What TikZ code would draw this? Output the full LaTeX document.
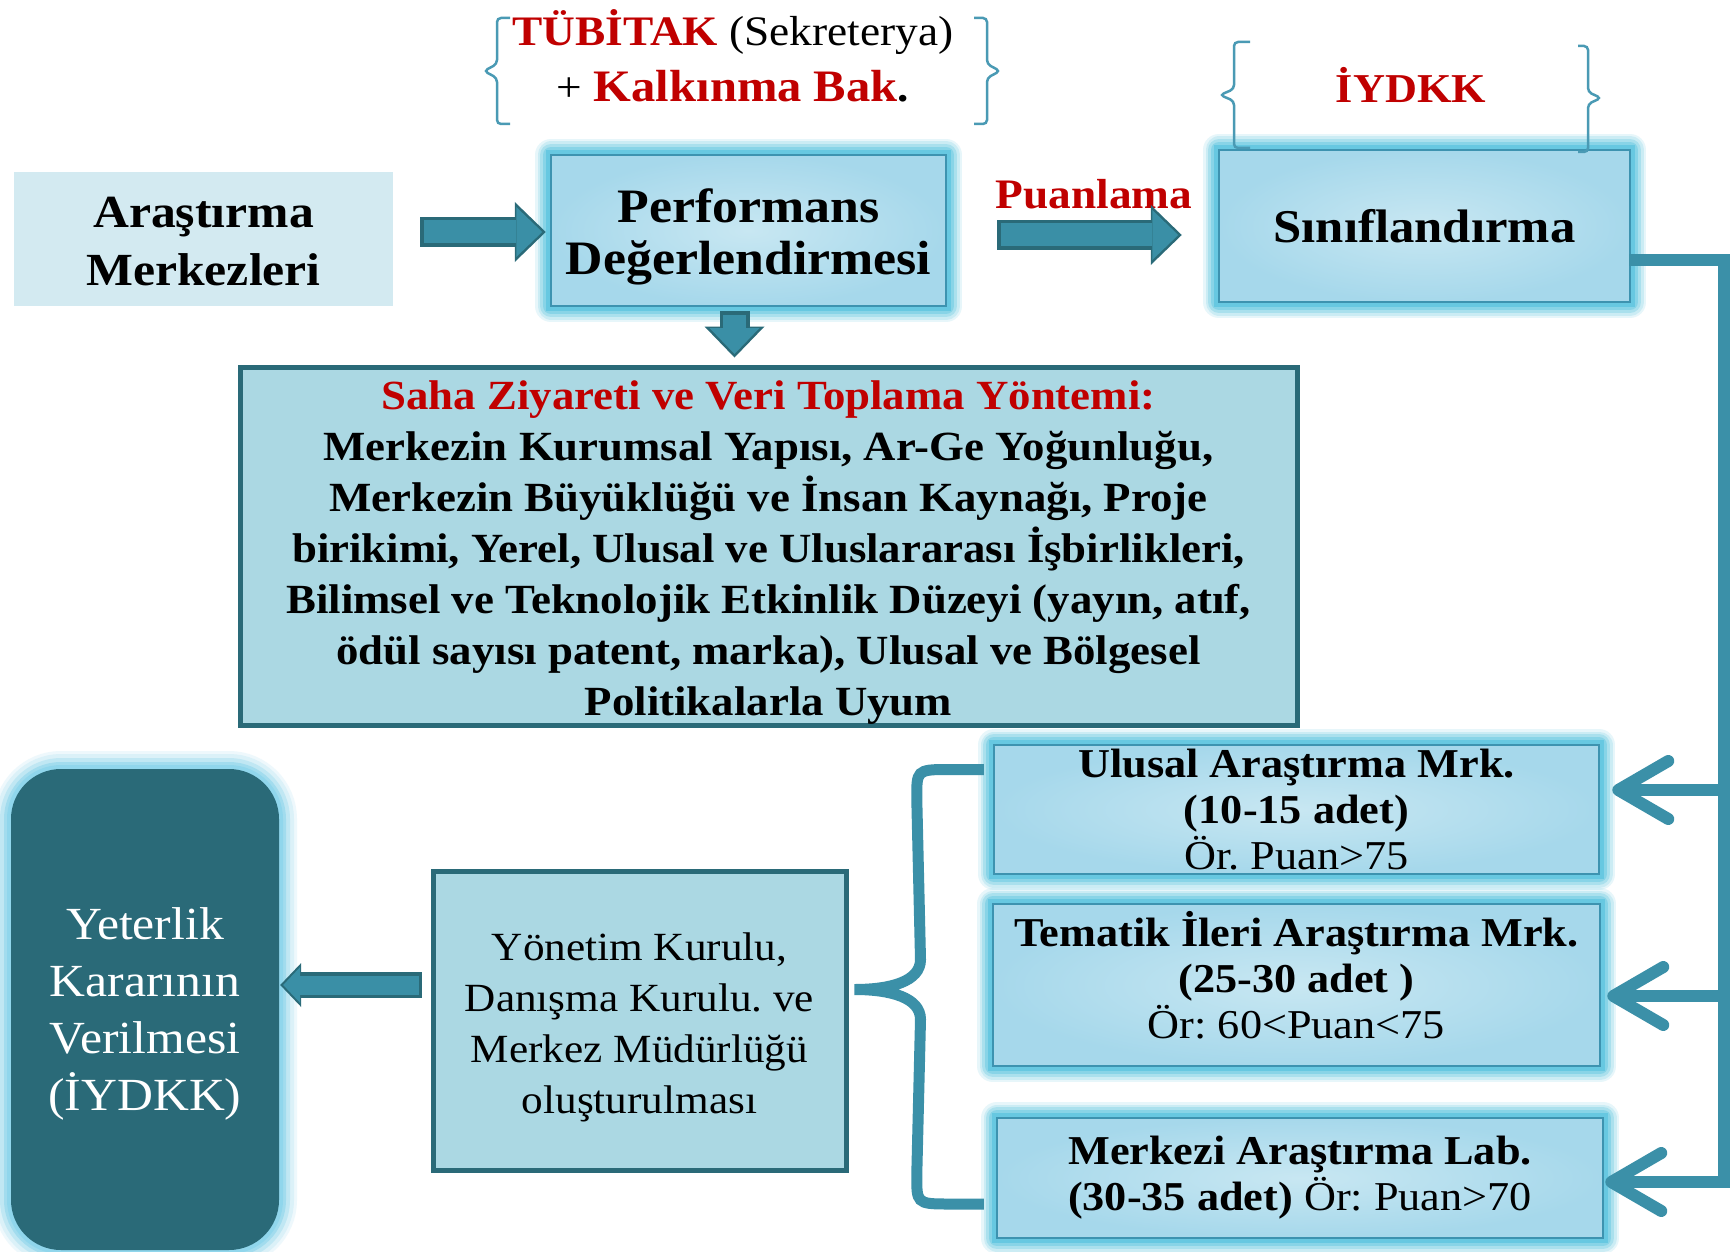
\documentclass[tikz,border=0pt]{standalone}
\usepackage{fontspec}
\setmainfont[FakeStretch=1.08]{Liberation Serif}
\frenchspacing
\usetikzlibrary{arrows.meta,calc}
\definecolor{redt}{HTML}{C00000}
\definecolor{tealdk}{HTML}{2A6A78}
\definecolor{arrowc}{HTML}{3A8FA6}
\definecolor{connc}{HTML}{3B90A8}
\definecolor{bracec}{HTML}{4A9AB4}
\definecolor{lightbox}{HTML}{D3EAF1}
\definecolor{sahafill}{HTML}{ABD8E3}
\definecolor{boxin}{HTML}{C8E7F2}
\definecolor{boxout}{HTML}{A6D8EB}
\definecolor{boxline}{HTML}{3D93B0}
\definecolor{glowc}{HTML}{5FC6E0}
\definecolor{glowlt}{HTML}{8FD6EC}
\begin{document}
\begin{tikzpicture}[x=1pt,y=-1pt,
  glowbox/.style={draw=boxline, line width=2.5, inner color=boxin, outer color=boxout,
    preaction={draw=glowc, line width=32, opacity=0.15, line join=round},
    preaction={draw=glowc, line width=27, opacity=0.2, line join=round},
    preaction={draw=glowc, line width=22, opacity=0.3, line join=round},
    preaction={draw=glowc, line width=16, opacity=0.45, line join=round},
    preaction={draw=glowc, line width=10, opacity=0.8},
    inner sep=0, align=center},
  darkbox/.style={draw=tealdk, line width=5, fill=sahafill, inner sep=0, align=center},
  yetbox/.style={fill=tealdk, rounded corners=50, inner sep=0, align=center, text=white,
    preaction={draw=glowlt, line width=36, opacity=0.15},
    preaction={draw=glowlt, line width=30, opacity=0.2},
    preaction={draw=glowlt, line width=22, opacity=0.35},
    preaction={draw=glowlt, line width=14, opacity=0.6},
    preaction={draw=glowlt, line width=8, opacity=0.9}},
  plain/.style={inner sep=0, align=center},
  smallbr/.style={draw=bracec, line width=2.5, rounded corners=4},
  bigbr/.style={draw=connc, line width=11},
  conn/.style={draw=connc, line width=12, line join=miter},
  barb/.style={-{Straight Barb[length=50,width=58,round]}},
  fatO/.style={draw=tealdk, line width=30, -{Triangle[length=31,width=60,line width=0pt]}},
  fatI/.style={draw=arrowc, line width=23, shorten >=3.5, shorten <=3.5, -{Triangle[length=26,width=50,line width=0pt]}},
  fatOs/.style={draw=tealdk, line width=26, -{Triangle[length=21,width=44,line width=0pt]}},
  fatIs/.style={draw=arrowc, line width=19, shorten >=3, shorten <=3, -{Triangle[length=17,width=36,line width=0pt]}},
]
\useasboundingbox (0,0) rectangle (1735,1252);
\fill[white] (0,0) rectangle (1735,1252);

% boxes
\node[fill=lightbox, inner sep=0, minimum width=379, minimum height=134] (arast) at (203.5,239) {};
\node[plain, font=\bfseries\fontsize{46}{58}\selectfont] (arastT) at ($(arast.center)+(0,3)$) {Araştırma\\Merkezleri};

\node[glowbox, minimum width=395, minimum height=151] (perf) at (748.5,230.5) {};
\node[plain, font=\bfseries\fontsize{48}{52}\selectfont] (perfT) at ($(perf.center)+(0,6)$) {Performans\\Değerlendirmesi};

\node[glowbox, minimum width=411, minimum height=152,
  font=\bfseries\fontsize{47}{52}\selectfont] (sinif) at (1424.5,226) {Sınıflandırma};

\node[darkbox, minimum width=1057, minimum height=358] (saha) at (768.5,546) {};
\node[plain, font=\bfseries\fontsize{41.5}{51}\selectfont] (sahaT) at ($(saha.center)+(0,7)$)
  {\textcolor{redt}{Saha Ziyareti ve Veri Toplama Yöntemi:}\\
   Merkezin Kurumsal Yapısı, Ar-Ge Yoğunluğu,\\
   Merkezin Büyüklüğü ve İnsan Kaynağı, Proje\\
   birikimi, Yerel, Ulusal ve Uluslararası İşbirlikleri,\\
   Bilimsel ve Teknolojik Etkinlik Düzeyi (yayın, atıf,\\
   ödül sayısı patent, marka), Ulusal ve Bölgesel\\
   Politikalarla Uyum};

\node[glowbox, minimum width=605, minimum height=129,
  font=\bfseries\fontsize{41}{46}\selectfont] (ulusal) at (1296.5,809.5)
  {Ulusal Araştırma Mrk.\\(10-15 adet)\\{\mdseries Ör. Puan>75}};
\node[glowbox, minimum width=607, minimum height=162] (tematik) at (1296.5,985) {};
\node[plain, font=\bfseries\fontsize{41}{46}\selectfont] (tematikT) at ($(tematik.center)+(0,-10)$)
  {Tematik İleri Araştırma Mrk.\\(25-30 adet )\\{\mdseries Ör: 60<Puan<75}};
\node[glowbox, minimum width=606, minimum height=120,
  font=\bfseries\fontsize{41}{46}\selectfont] (merkezi) at (1300,1178)
  {Merkezi Araştırma Lab.\\(30-35 adet) {\mdseries Ör: Puan>70}};

\node[darkbox, minimum width=413, minimum height=299] (yonetim) at (639.5,1020.5) {};
\node[plain, font=\fontsize{40}{51}\selectfont] (yonetimT) at ($(yonetim.center)+(0,7)$)
  {Yönetim Kurulu,\\Danışma Kurulu. ve\\Merkez Müdürlüğü\\oluşturulması};

\node[yetbox, minimum width=268, minimum height=481] (yeter) at (145,1009.5) {};
\node[plain, text=white, font=\fontsize{46}{57}\selectfont] (yeterT) at ($(yeter.center)+(0,4)$)
  {Yeterlik\\Kararının\\Verilmesi\\(İYDKK)};

% top labels
\node[plain, font=\fontsize{42}{56}\selectfont] (tub) at (733,56)
  {\textcolor{redt}{\bfseries TÜBİTAK} (Sekreterya)\\+ \textcolor{redt}{\bfseries\fontsize{45}{56}\selectfont Kalkınma Bak}\textbf{.}};
\node[plain, text=redt, font=\bfseries\fontsize{41}{50}\selectfont] (iydkk) at (1411,85) {İYDKK};
\node[plain, text=redt, font=\bfseries\fontsize{42}{50}\selectfont] (puan) at (1094,194) {Puanlama};

% small braces
\draw[smallbr] (510,18) -| (497,64) -- (484,71) -- (497,78) |- (510,124);
\draw[smallbr] (974,18) -| (987,64) -- (1000,71) -- (987,78) |- (974,124);
\draw[smallbr] (1250,42) -| (1234,89) -- (1220,95) -- (1234,101) |- (1250,148);
\draw[smallbr] (1578,46) -| (1588,92) -- (1601,98) -- (1588,104) |- (1578,152);

% fat arrows
\draw[fatO] ($(arast.east)+(27,-7)$) -- ($(perf.west)+(-4,1.5)$);
\draw[fatI] ($(arast.east)+(27,-7)$) -- ($(perf.west)+(-4,1.5)$);
\draw[fatO] ($(perf.east)+(50,4.5)$) -- ($(sinif.west)+(-36,9)$);
\draw[fatI] ($(perf.east)+(50,4.5)$) -- ($(sinif.west)+(-36,9)$);
\draw[fatO] ($(perf.south)+(-14,4)$) -- ($(saha.north)+(-34,-7)$);
\draw[fatI] ($(perf.south)+(-14,4)$) -- ($(saha.north)+(-34,-7)$);
\draw[fatOs] ($(yonetim.west)+(-9,-35.5)$) -- ($(yeter.east)+(1,-24.5)$);
\draw[fatIs] ($(yonetim.west)+(-9,-35.5)$) -- ($(yeter.east)+(1,-24.5)$);

% right rail
\coordinate (railtop) at ($(sinif.east)+(93,34)$);
\coordinate (t1) at ($(ulusal.east)+(12,-19.5)$);
\coordinate (t2) at ($(tematik.east)+(6,11)$);
\coordinate (t3) at ($(merkezi.east)+(1,4)$);
\draw[conn, barb] ($(sinif.east)+(-2,34)$) -- (railtop) -- (railtop |- t3) -- (t3);
\draw[conn, barb] (railtop |- t1) -- (t1);
\draw[conn, barb] (railtop |- t2) -- (t2);

% big brace
\coordinate (bt) at ($(ulusal.west)+(-9,-40)$);
\coordinate (bb) at ($(merkezi.west)+(-12,26)$);
\coordinate (btip) at ($(yonetim.east)+(6,-31)$);
\draw[bigbr] (bt) -- ($(bt)+(-38,0)$)
  .. controls ($(bt)+(-67,0)$) and ($(bt)+(-67,2)$) .. ($(bt)+(-67,28)$)
  -- ($(btip)+(66,-30)$)
  .. controls ($(btip)+(66,-8)$) and ($(btip)+(36,0)$) .. (btip)
  .. controls ($(btip)+(36,0)$) and ($(btip)+(66,8)$) .. ($(btip)+(66,30)$)
  -- ($(bb)+(-67,-28)$)
  .. controls ($(bb)+(-67,-2)$) and ($(bb)+(-67,0)$) .. ($(bb)+(-38,0)$)
  -- (bb);
\end{tikzpicture}
\end{document}
